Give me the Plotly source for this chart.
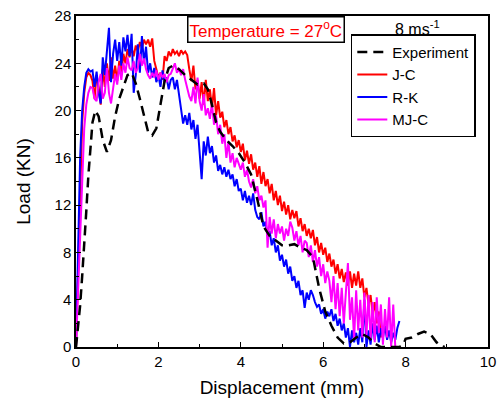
import plotly.graph_objects as go

# shared displacement grid for simulated curves (mm)
disp = [0.00, 0.05, 0.10, 0.15, 0.20, 0.25, 0.30, 0.35, 0.40, 0.45,
        0.50, 0.55, 0.60, 0.65, 0.70, 0.75, 0.80, 0.85, 0.90, 0.95,
        1.00, 1.05, 1.10, 1.15, 1.20, 1.25, 1.30, 1.35, 1.40, 1.45,
        1.50, 1.55, 1.60, 1.65, 1.70, 1.75, 1.80, 1.85, 1.90, 1.95,
        2.00, 2.05, 2.10, 2.15, 2.20, 2.25, 2.30, 2.35, 2.40, 2.45,
        2.50, 2.55, 2.60, 2.65, 2.70, 2.75, 2.80, 2.85, 2.90, 2.95,
        3.00, 3.05, 3.10, 3.15, 3.20, 3.25, 3.30, 3.35, 3.40, 3.45,
        3.50, 3.55, 3.60, 3.65, 3.70, 3.75, 3.80, 3.85, 3.90, 3.95,
        4.00, 4.05, 4.10, 4.15, 4.20, 4.25, 4.30, 4.35, 4.40, 4.45,
        4.50, 4.55, 4.60, 4.65, 4.70, 4.75, 4.80, 4.85, 4.90, 4.95,
        5.00, 5.05, 5.10, 5.15, 5.20, 5.25, 5.30, 5.35, 5.40, 5.45,
        5.50, 5.55, 5.60, 5.65, 5.70, 5.75, 5.80, 5.85, 5.90, 5.95,
        6.00, 6.05, 6.10, 6.15, 6.20, 6.25, 6.30, 6.35, 6.40, 6.45,
        6.50, 6.55, 6.60, 6.65, 6.70, 6.75, 6.80, 6.85, 6.90, 6.95,
        7.00, 7.05, 7.10, 7.15, 7.20, 7.25, 7.30, 7.35, 7.40, 7.45,
        7.50, 7.55, 7.60, 7.65, 7.70, 7.75, 7.80, 7.85, 7.90, 7.95]

jc_load = [0, 7, 14, 19, 21.5, 22.8, 23.2, 23.0, 22.5, 21.0,
           23.0, 22.0, 20.5, 23.5, 22.0, 24.0, 22.5, 24.5, 22.7, 23.8,
           22.5, 24.2, 23.0, 24.8, 24.0, 25.2, 24.5, 25.3, 24.6, 25.5,
           25.0, 25.8, 25.3, 26.0, 25.6, 26.0, 25.4, 26.1, 24.2, 23.5,
           22.8, 23.2, 22.6, 24.6, 24.2, 25.0, 24.6, 25.2, 24.8, 25.0,
           24.6, 25.1, 24.8, 25.0, 24.7, 23.5, 22.5, 23.8, 21.8, 22.6,
           21.0, 22.4, 20.5, 22.6, 20.8, 21.8, 20.2, 21.9, 19.6, 20.8,
           19.4, 19.9, 18.6, 19.2, 18.0, 18.6, 17.4, 17.9, 16.9, 17.5,
           16.5, 17.2, 15.8, 16.6, 15.5, 16.3, 15.0, 15.6, 14.4, 15.3,
           13.8, 14.8, 13.6, 14.2, 13.0, 13.8, 12.4, 13.2, 12.0, 12.8,
           11.5, 12.3, 11.2, 12.0, 10.8, 11.6, 10.9, 11.5, 10.2, 10.9,
           9.8, 10.4, 9.4, 10.0, 9.2, 9.9, 8.6, 9.3, 8.0, 8.8,
           7.8, 8.4, 7.2, 7.9, 6.8, 7.4, 6.2, 7.0, 5.8, 6.6,
           5.5, 6.3, 5.2, 6.4, 5.0, 6.2, 5.2, 6.4, 5.0, 5.8,
           4.2, 5.0, 3.6, 4.4, 2.8, 3.8, 2.0, 3.0, 0.8]

rk_load = [0, 9, 16, 20, 22, 23.2, 23.5, 23.3, 23.4, 22.0,
           23.3, 21.5, 20.6, 24.5, 23.0, 25.0, 27.0, 22.4, 24.8, 26.0,
           24.2, 25.8, 23.8, 26.2, 25.0, 26.4, 24.6, 26.5, 21.5, 23.0,
           25.6, 23.2, 26.3, 24.0, 25.4, 23.2, 24.0, 22.8, 23.6, 22.4,
           23.0, 22.0, 23.4, 22.4, 22.8, 21.8, 22.6, 22.8, 21.8, 22.6,
           21.4, 20.0, 18.9, 19.6, 18.8, 19.8, 18.4, 19.2, 17.6, 18.8,
           16.0, 14.2, 17.4, 16.2, 17.8, 16.4, 17.0, 15.6, 16.2, 14.9,
           15.4, 14.6, 15.2, 14.4, 15.0, 14.2, 14.6, 13.6, 14.2, 13.2,
           13.4, 12.4, 13.2, 12.2, 12.8, 12.0, 13.0, 11.6, 11.0, 10.8,
           11.4, 10.2, 10.6, 9.4, 9.8, 8.6, 9.2, 8.0, 8.6, 7.3,
           7.8, 6.8, 7.4, 6.2, 6.8, 5.6, 6.0, 5.0, 5.6, 4.4,
           4.8, 3.3, 4.6, 4.0, 4.8, 4.4, 3.8, 3.4, 3.6, 2.8,
           3.2, 2.4, 3.0, 2.6, 3.2, 2.2, 2.8, 1.8, 2.4, 1.4,
           2.0, 0.8, 1.6, 0.0, 1.4, 0.4, 1.2, 0.2, 1.6, 0.4,
           4.0, 0.0, 1.4, 0.2, 2.0, 0.6, 1.8, 0.4, 1.6, 0.8,
           1.8, 0.6, 1.4, 0.4, 1.2, 0.6, 1.6, 2.2]

mjc_load = [0, 5, 10, 14, 18.5, 20.5, 21.5, 22.0, 21.9, 21.0,
            20.8, 22.4, 23.1, 21.0, 21.5, 23.6, 21.5, 20.6, 22.0, 23.1,
            22.2, 23.8, 22.6, 24.0, 23.2, 24.5, 23.6, 23.4, 24.2, 23.2,
            23.6, 24.8, 23.8, 24.4, 23.5, 23.0, 22.7, 23.2, 22.8, 23.4,
            22.6, 23.2, 22.8, 23.1, 22.4, 23.0, 23.1, 23.6, 24.0, 23.2,
            23.6, 23.0, 23.5, 22.6, 21.8, 21.2, 20.8, 22.0, 20.6, 22.8,
            20.8, 20.0, 21.4, 19.6, 20.2, 19.3, 20.6, 18.8, 19.6, 18.0,
            18.8, 17.2, 18.0, 16.0, 17.4, 15.6, 16.4, 15.2, 16.0, 15.5,
            15.0, 15.6, 14.4, 15.0, 14.0, 13.5, 14.2, 13.0, 13.6, 12.4,
            12.8, 11.8, 12.4, 8.4, 11.0, 9.6, 10.8, 9.2, 10.4, 9.6,
            10.2, 9.0, 10.0, 9.4, 10.6, 10.1, 9.0, 9.8, 8.6, 9.4,
            8.0, 9.0, 8.8, 7.6, 8.6, 7.2, 8.2, 6.8, 7.6, 6.0,
            7.0, 5.4, 6.4, 5.6, 3.8, 6.0, 3.2, 5.4, 2.6, 5.0,
            2.0, 4.6, 7.1, 2.3, 4.2, 0.6, 4.8, 1.4, 4.0, 0.8,
            4.6, 1.0, 4.4, 0.6, 3.8, 0.4, 4.2, 1.2, 3.6, 0.2,
            3.2, 0.8, 4.2, 0.0, 3.6, 0.0, 0.0]

exp_disp = [0, 0.05, 0.10, 0.15, 0.20, 0.25, 0.30, 0.35, 0.40, 0.47,
            0.55, 0.65, 0.75, 0.85, 0.95, 1.05, 1.15, 1.25, 1.35, 1.45,
            1.55, 1.65, 1.75, 1.85, 1.95, 2.05, 2.15, 2.25, 2.35, 2.50,
            2.65, 2.80, 2.95, 3.10, 3.20, 3.30, 3.40, 3.50, 3.65, 3.80,
            3.95, 4.10, 4.25, 4.40, 4.55, 4.70, 4.85, 5.00, 5.15, 5.30,
            5.45, 5.60, 5.75, 5.90, 6.05, 6.20, 6.35, 6.50, 6.65, 6.80,
            6.95, 7.10, 7.25, 7.40, 7.60, 7.85, 7.95, 8.00, 8.15, 8.30,
            8.45, 8.60, 8.75, 8.85, 8.95]
exp_load = [0, 1.5, 3.5, 6.0, 8.5, 11.5, 14.5, 17.0, 19.0, 20.0,
            19.5, 17.5, 16.5, 17.5, 19.5, 21.0, 22.0, 23.0, 23.2, 22.3,
            21.0, 19.5, 18.2, 17.9, 18.5, 20.5, 22.5, 23.6, 23.8, 23.5,
            23.0, 22.6, 22.2, 22.3, 21.8, 20.5, 19.0, 18.2, 17.5, 17.0,
            16.4, 15.6, 14.6, 12.5, 10.2, 9.4, 9.0, 8.6, 8.6, 8.7,
            8.4, 8.2, 7.6, 5.0, 3.0, 1.8, 0.8, 0.3, 0.4, 0.8,
            1.1, 0.8, 0.3, 0.0, 0.0, 0.0, 0.2, 0.7, 0.8, 1.1,
            1.3, 1.1, 0.4, 0.1, 0.0]

FONT = "Liberation Sans, Arial, sans-serif"

fig = go.Figure()
fig.add_trace(go.Scatter(x=disp[:len(jc_load)], y=jc_load, mode="lines", name="J-C",
                         line=dict(color="#ff0000", width=2), legendrank=2))
fig.add_trace(go.Scatter(x=disp[:len(rk_load)], y=rk_load, mode="lines", name="R-K",
                         line=dict(color="#0000ff", width=2), legendrank=3))
fig.add_trace(go.Scatter(x=disp[:len(mjc_load)], y=mjc_load, mode="lines", name="MJ-C",
                         line=dict(color="#ff00ff", width=2), legendrank=4))
fig.add_trace(go.Scatter(x=exp_disp, y=exp_load, mode="lines", name="Experiment",
                         line=dict(color="black", width=2.5, dash="10px,6px"), legendrank=1))

axis_common = dict(showline=True, linecolor="black", linewidth=1.5, mirror=True,
                   ticks="inside", ticklen=5, tickwidth=1.2, tickcolor="black",
                   showgrid=False, zeroline=False, automargin=False,
                   tickfont=dict(family=FONT, size=15, color="black"))

fig.update_xaxes(range=[0, 10], dtick=2, tick0=0,
                 minor=dict(ticks="inside", ticklen=3, dtick=1, tickcolor="black"),
                 title=dict(text="Displacement (mm)", font=dict(family=FONT, size=19, color="black"),
                            standoff=12),
                 **axis_common)
fig.update_yaxes(range=[0, 28], dtick=4, tick0=0,
                 minor=dict(ticks="inside", ticklen=3, dtick=2, tickcolor="black"),
                 title=dict(text="Load (KN)", font=dict(family=FONT, size=19, color="black"),
                            standoff=19),
                 **axis_common)

fig.update_layout(
    width=500, height=408,
    margin=dict(l=76, r=12, t=16, b=61, autoexpand=False),
    plot_bgcolor="white", paper_bgcolor="white",
    showlegend=True,
    legend=dict(x=0.667, y=0.945, xanchor="left", yanchor="top",
                bordercolor="black", borderwidth=1.5, bgcolor="white",
                font=dict(family=FONT, size=15, color="black"),
                tracegroupgap=0, itemwidth=30),
    annotations=[
        dict(text="Temperature = 27<sup>o</sup>C", xref="paper", yref="paper",
             x=0.461, y=0.958, xanchor="center", yanchor="middle", showarrow=False,
             font=dict(family=FONT, size=17, color="#ff0000"),
             bordercolor="black", borderwidth=1.5, borderpad=1, bgcolor="white"),
        dict(text="8 ms<sup>-1</sup>", xref="paper", yref="paper",
             x=0.83, y=0.964, xanchor="center", yanchor="middle", showarrow=False,
             font=dict(family=FONT, size=16, color="black")),
    ],
)

fig.write_html("out.html")
